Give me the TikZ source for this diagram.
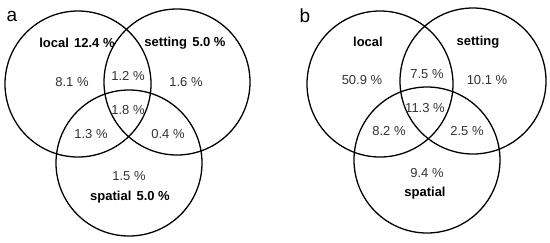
\documentclass[tikz,border=0pt]{standalone}
\usepackage{fontspec}
\setmainfont{Liberation Sans}
\begin{document}
\begin{tikzpicture}[x=1pt,y=-1pt,
  ring/.style={circle,draw=black,line width=1.3pt,minimum size=146pt,inner sep=0pt},
  num/.style={font=\fontsize{13}{15}\selectfont,text=black!80},
  lab/.style={font=\fontsize{13}{15}\selectfont\bfseries,text=black},
  panel/.style={font=\fontsize{19}{21}\selectfont,anchor=center}]
\useasboundingbox (0,0) rectangle (550,242);
% panel a
\node[ring] (aL) at (78,84) {};
\node[ring] (aR) at (177,82) {};
\node[ring] (aB) at (129,163) {};
\node[panel] (ta) at (12,16) {a};
\node[lab] (la1) at (77,43) {local\hspace{0.4em}12.4 \%};
\node[lab] (la2) at (185,43) {setting\hspace{0.4em}5.0 \%};
\node[num] (na1) at (72,82) {8.1 \%};
\node[num] (na2) at (128,76) {1.2 \%};
\node[num] (na3) at (186,82) {1.6 \%};
\node[num] (na4) at (128,110) {1.8 \%};
\node[num] (na5) at (91,134) {1.3 \%};
\node[num] (na6) at (168,134) {0.4 \%};
\node[num] (na7) at (129,176) {1.5 \%};
\node[lab] (la3) at (130,197) {spatial\hspace{0.4em}5.0 \%};
% panel b
\node[ring] (bL) at (380,84) {};
\node[ring] (bR) at (473,81) {};
\node[ring] (bB) at (427,160) {};
\node[panel] (tb) at (305,16) {b};
\node[lab] (lb1) at (368,42) {local};
\node[lab] (lb2) at (478,42) {setting};
\node[num] (nb1) at (362,80) {50.9 \%};
\node[num] (nb2) at (427,74) {7.5 \%};
\node[num] (nb3) at (487,80) {10.1 \%};
\node[num] (nb4) at (425,108) {11.3 \%};
\node[num] (nb5) at (389,131) {8.2 \%};
\node[num] (nb6) at (467,131) {2.5 \%};
\node[num] (nb7) at (427,173) {9.4 \%};
\node[lab] (lb3) at (425,193) {spatial};
\end{tikzpicture}
\end{document}
